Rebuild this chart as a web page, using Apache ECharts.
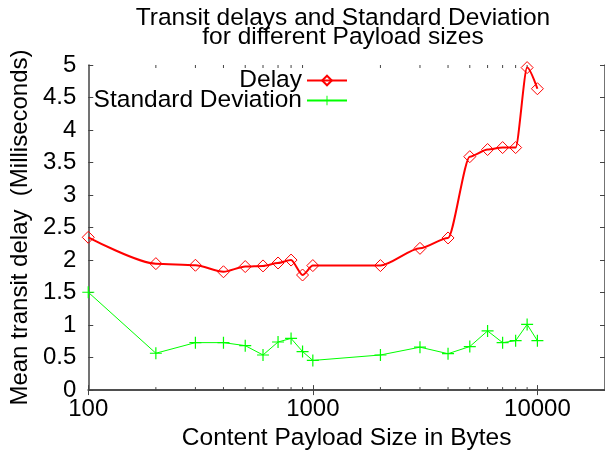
<!DOCTYPE html>
<html>
<head>
<meta charset="utf-8">
<script src="https://cdn.jsdelivr.net/npm/echarts@6/dist/echarts.min.js"></script>
<style>
  html, body { margin: 0; padding: 0; background: #fff; }
  #chart { width: 605px; height: 456px; }
</style>
</head>
<body>
<div id="chart"></div>
<script>
// payload sizes in bytes (log x axis)
var payloadSizes = [100, 200, 300, 400, 500, 600, 700, 800, 900, 1000,
  2000, 3000, 4000, 5000, 6000, 7000, 8000, 9000, 10000];
// mean transit delay, ms
var delayValues = [2.35, 1.945, 1.92, 1.82, 1.9, 1.91, 1.955, 2.0, 1.77, 1.915,
  1.915, 2.18, 2.34, 3.59, 3.7, 3.73, 3.73, 4.96, 4.635];
// standard deviation, ms
var stdDevValues = [1.505, 0.567, 0.73, 0.73, 0.684, 0.54, 0.74, 0.795, 0.593, 0.456,
  0.54, 0.66, 0.56, 0.67, 0.91, 0.73, 0.76, 1.01, 0.76];
// minor ticks of the log axis (gnuplot style)
var minorTickValues = [200, 300, 400, 500, 600, 700, 800, 900,
  2000, 3000, 4000, 5000, 6000, 7000, 8000, 9000];

var FONT = 'Liberation Sans';
var PLUS = 'path://M0,4.5H10V5.5H0ZM4.5,0H5.5V10H4.5Z';
var AXIS_COLOR = '#444';

function pairs(xs, ys) {
  return xs.map(function (x, i) { return [x, ys[i]]; });
}

var axisLine = { lineStyle: { color: AXIS_COLOR, width: 1.5 } };
var tick = { inside: true, length: 5, lineStyle: { color: AXIS_COLOR } };

var chart = echarts.init(document.getElementById('chart'));
chart.setOption({
  animation: false,
  backgroundColor: '#fff',
  title: {
    text: 'Transit delays and Standard Deviation\nfor different Payload sizes',
    left: 343,
    textAlign: 'center',
    top: 9,
    padding: 0,
    textStyle: { fontFamily: FONT, fontSize: 24.5, fontWeight: 'normal', color: '#000', lineHeight: 19 }
  },
  legend: [
    {
      data: ['Delay'],
      right: 257, top: 68, padding: 0,
      align: 'right', itemWidth: 40, itemHeight: 12,
      textStyle: { fontFamily: FONT, fontSize: 24.5, color: '#000' }
    },
    {
      data: ['Standard Deviation'],
      right: 257, top: 88, padding: 0,
      align: 'right', itemWidth: 40, itemHeight: 12,
      textStyle: { fontFamily: FONT, fontSize: 24.5, color: '#000' }
    }
  ],
  grid: { left: 82, top: 65, width: 523, height: 329 },
  xAxis: [
    {
      type: 'log', logBase: 10, min: 100, max: 20000,
      name: 'Content Payload Size in Bytes',
      nameLocation: 'middle', nameGap: 34,
      nameTextStyle: { fontFamily: FONT, fontSize: 24.5, color: '#000' },
      axisLine: axisLine,
      axisTick: tick,
      axisLabel: {
        margin: 7, fontFamily: FONT, fontSize: 24, color: '#000', showMaxLabel: false,
        formatter: function (v) { return String(v); }
      },
      splitLine: { show: false }
    },
    {
      type: 'log', logBase: 10, min: 100, max: 20000, position: 'top',
      axisLine: axisLine,
      axisTick: tick,
      axisLabel: { show: false },
      splitLine: { show: false }
    }
  ],
  yAxis: [
    {
      type: 'value', min: 0, max: 5, interval: 0.5,
      name: 'Mean transit delay  (Milliseconds)',
      nameLocation: 'middle', nameGap: 53,
      nameTextStyle: { fontFamily: FONT, fontSize: 24, color: '#000' },
      axisLine: axisLine,
      axisTick: tick,
      axisLabel: { margin: 12, fontFamily: FONT, fontSize: 24, color: '#000' },
      splitLine: { show: false }
    },
    {
      type: 'value', min: 0, max: 5, interval: 0.5, position: 'right',
      axisLine: axisLine,
      axisTick: tick,
      axisLabel: { show: false },
      splitLine: { show: false }
    }
  ],
  series: [
    {
      name: 'minor ticks',
      type: 'custom',
      silent: true,
      clip: false,
      data: minorTickValues.map(function (v) { return [v, 0]; }),
      renderItem: function (params, api) {
        var b = api.coord([api.value(0), 0]);
        var t = api.coord([api.value(0), 5]);
        var st = { stroke: AXIS_COLOR, lineWidth: 1 };
        return {
          type: 'group',
          children: [
            { type: 'line', shape: { x1: b[0], y1: b[1], x2: b[0], y2: b[1] - 3 }, style: st },
            { type: 'line', shape: { x1: t[0], y1: t[1], x2: t[0], y2: t[1] + 3 }, style: st }
          ]
        };
      },
      z: 1
    },
    {
      name: 'Delay',
      type: 'line',
      data: pairs(payloadSizes, delayValues),
      smooth: 0.25,
      smoothMonotone: 'x',
      symbol: 'diamond',
      symbolSize: 12,
      lineStyle: { color: '#ff0000', width: 2 },
      itemStyle: { color: 'rgba(255,255,255,0)', borderColor: '#ff0000', borderWidth: 1 },
      z: 3
    },
    {
      name: 'Standard Deviation',
      type: 'line',
      data: pairs(payloadSizes, stdDevValues),
      symbol: PLUS,
      symbolSize: 12,
      lineStyle: { color: '#00ff00', width: 1 },
      itemStyle: { color: '#00ff00' },
      z: 2
    }
  ]
});
</script>
</body>
</html>
